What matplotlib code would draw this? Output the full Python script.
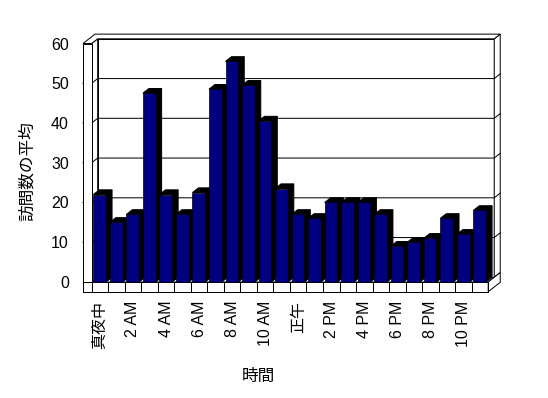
import matplotlib
matplotlib.use("Agg")
import matplotlib.pyplot as plt
from matplotlib.patches import Polygon, Rectangle

plt.rcParams["font.family"] = ["Liberation Sans", "Noto Sans CJK JP"]

# 時間帯ごとの平均訪問数
hours = list(range(24))
visits = [22, 15, 17, 47.5, 22, 17, 22.5, 48.5, 55.5, 49.5, 40.5, 23.5,
          17, 16, 20, 20, 20, 17, 9, 10, 11, 16, 12, 18]
tick_labels = ["真夜中", "2 AM", "4 AM", "6 AM", "8 AM", "10 AM",
               "正午", "2 PM", "4 PM", "6 PM", "8 PM", "10 PM"]
y_ticks = [0, 10, 20, 30, 40, 50, 60]

BAR_BLUE = "#000080"
DX, DY = 0.363, 1.18      # 奥行き方向のずれ（データ単位）
WALL = 0.527              # 左壁の厚み
FLOOR = 2.44              # 床の厚み
LW = 0.72
N = len(hours)
YMAX = y_ticks[-1]


def poly(ax, pts, fc, z):
    ax.add_patch(Polygon(pts, closed=True, facecolor=fc, edgecolor="black",
                         lw=LW, zorder=z, clip_on=False))


fig = plt.figure(figsize=(5.48, 3.98), dpi=100)
ax = fig.add_axes([0.1673, 0.2915, 0.7236, 0.5992])
ax.set_xlim(0, N)
ax.set_ylim(0, YMAX)
ax.patch.set_visible(False)
for s in ax.spines.values():
    s.set_visible(False)

# 床と壁
poly(ax, [(0, 0), (N, 0), (N + 2 * DX, 2 * DY), (2 * DX, 2 * DY)], "white", 1)
ax.add_patch(Rectangle((DX, DY), N, YMAX, facecolor="white", edgecolor="black",
                       lw=LW, zorder=2, clip_on=False))
poly(ax, [(N + DX, DY), (N + DX, YMAX + DY), (N + 2 * DX, YMAX + 2 * DY),
          (N + 2 * DX, 2 * DY)], "white", 2)
poly(ax, [(0, 0), (0, YMAX), (DX, YMAX + DY), (DX, DY)], "white", 2)
poly(ax, [(-WALL, YMAX), (0, YMAX), (DX, YMAX + DY), (N + DX, YMAX + DY),
          (N + 2 * DX, YMAX + 2 * DY), (-WALL + 2 * DX, YMAX + 2 * DY)], "white", 2)
ax.add_patch(Rectangle((-WALL, -FLOOR), WALL, YMAX + FLOOR, facecolor="white",
                       edgecolor="black", lw=LW, zorder=3, clip_on=False))
ax.add_patch(Rectangle((-WALL, -FLOOR), N + WALL, FLOOR, facecolor="white",
                       edgecolor="black", lw=LW, zorder=3, clip_on=False))
poly(ax, [(N, -FLOOR), (N, 0), (N + 2 * DX, 2 * DY), (N + 2 * DX, 2 * DY - FLOOR)],
     "white", 3)
ax.vlines(range(N + 1), -FLOOR, 0, colors="black", lw=LW, zorder=4, clip_on=False)

# 目盛線
for v in y_ticks[1:-1]:
    ax.plot([-WALL, 0, DX, N + DX, N + 2 * DX], [v, v, v + DY, v + DY, v + 2 * DY],
            color="black", lw=LW, zorder=2.5, clip_on=False)

# 3D 棒
x_left = [h + 0.1 for h in hours]
bars = ax.bar(x_left, visits, width=0.77, align="edge", color=BAR_BLUE,
              edgecolor="black", lw=0.5, clip_on=False)
for i, (rect, v) in enumerate(zip(bars, visits)):
    x0 = rect.get_x()
    x1 = x0 + rect.get_width()
    rect.set_zorder(11 + 2 * i)
    poly(ax, [(x1, 0), (x1, v), (x1 + DX, v + DY), (x1 + DX, DY)], "black", 10 + 2 * i)
    poly(ax, [(x0, v), (x1, v), (x1 + DX, v + DY), (x0 + DX, v + DY)], "black", 10 + 2 * i)

ax.set_xticks([h + 0.5 for h in hours[::2]])
ax.set_xticklabels(tick_labels, rotation=90)
ax.set_yticks(y_ticks)
ax.tick_params(axis="x", length=0, pad=13.5, labelsize=11.5)
ax.tick_params(axis="y", length=0, pad=16.5, labelsize=11.5)

fig.text(27 / 548, 1 - 171 / 398, "訪問数の平均", rotation=90,
         ha="center", va="center", fontsize=12)
fig.text(258 / 548, 1 - 376 / 398, "時間", ha="center", va="center", fontsize=12)

fig.savefig("out.png", dpi=100, facecolor="white")
